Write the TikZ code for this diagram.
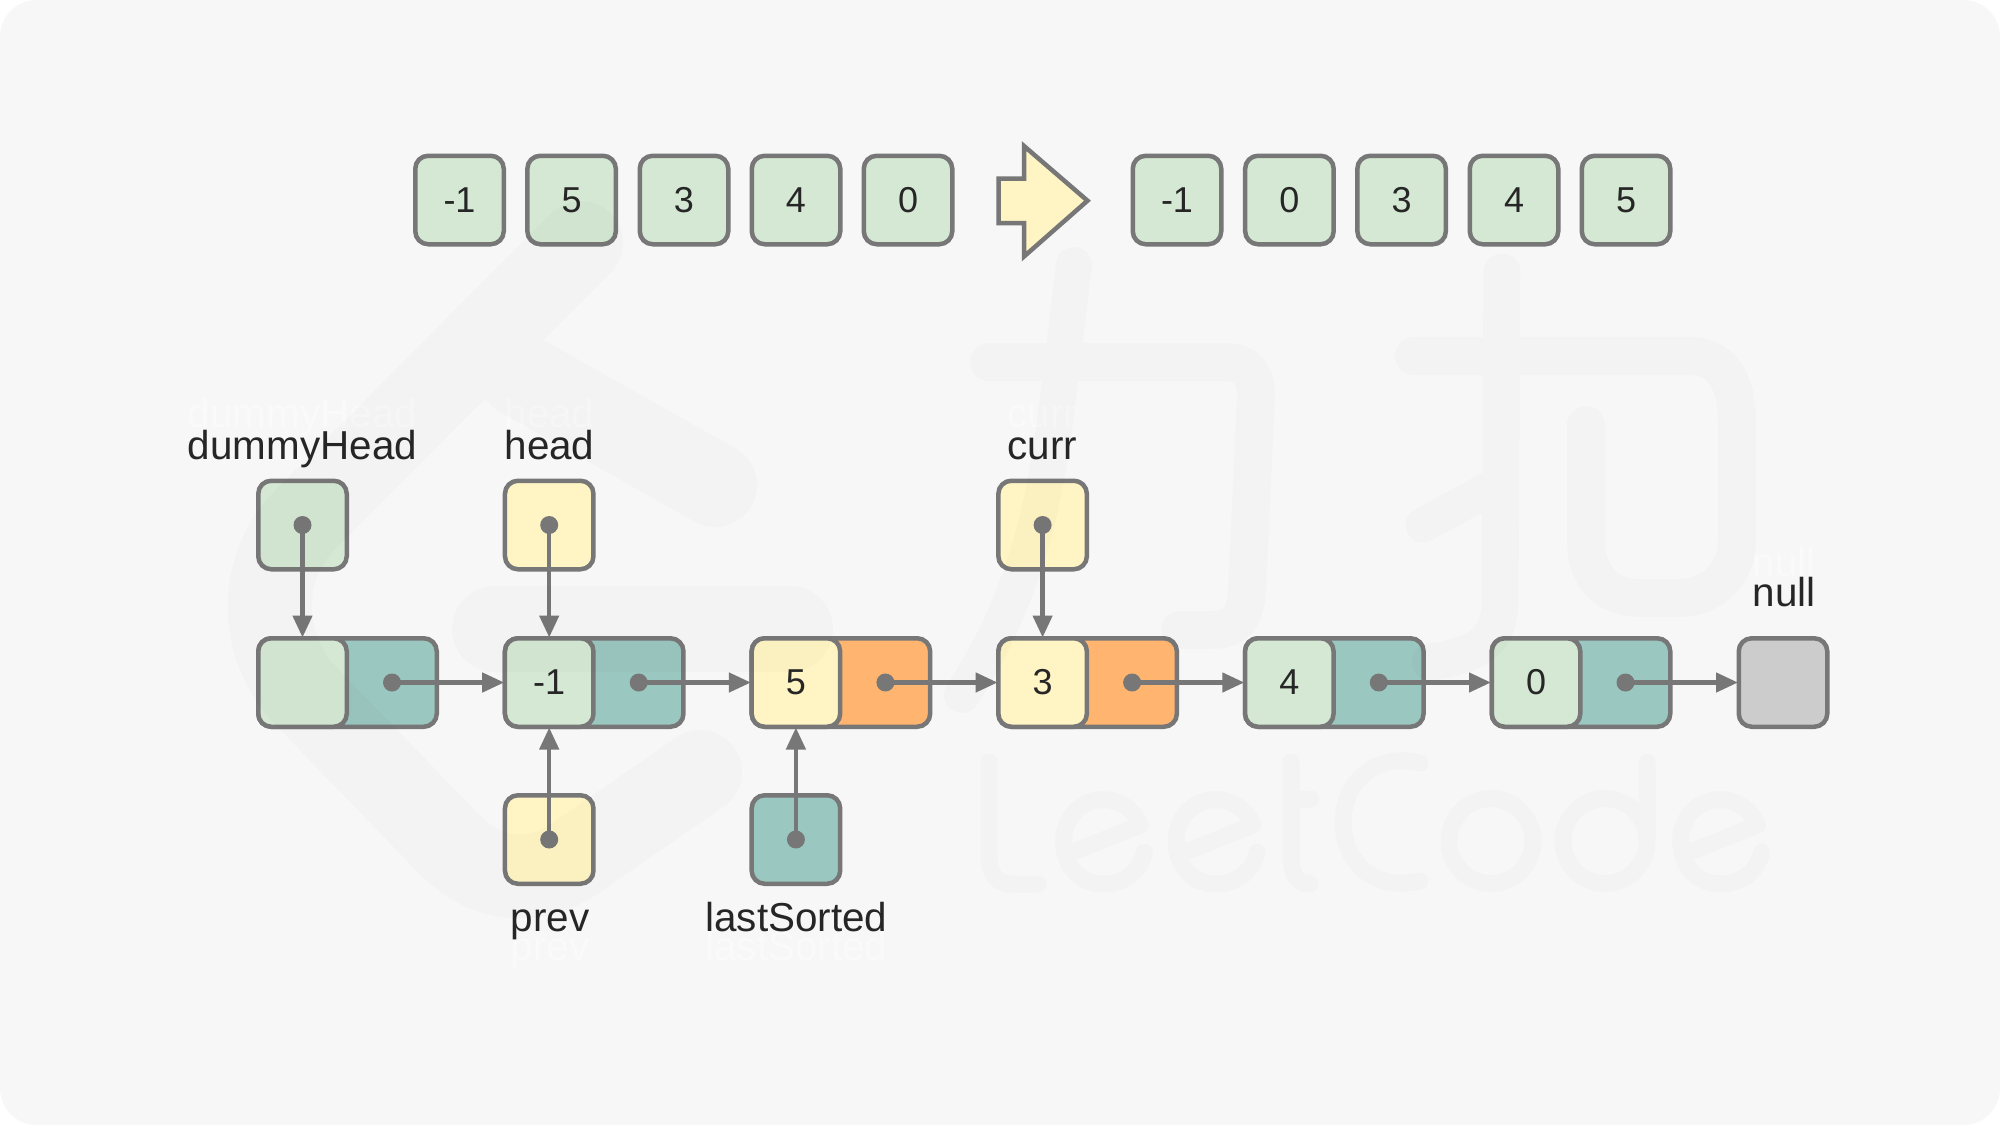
\documentclass[tikz,border=0pt]{standalone}
\usepackage{fontspec}
\setmainfont{Liberation Sans}
\usetikzlibrary{arrows.meta}
\definecolor{bgc}{HTML}{F7F7F7}
\definecolor{ln}{HTML}{777777}
\definecolor{gr}{HTML}{D5E8D4}
\definecolor{ye}{HTML}{FFF4C3}
\definecolor{te}{HTML}{9AC7BF}
\definecolor{orc}{HTML}{FFB570}
\definecolor{gy}{HTML}{CCCCCC}
\definecolor{txt}{HTML}{262626}
\definecolor{ghost}{HTML}{FAFAFA}
\tikzset{
  cell/.style={draw=ln,line width=4.5pt,rounded corners=13pt,minimum width=88.5pt,minimum height=88.5pt,inner sep=0pt,text=txt,font=\fontsize{36}{40}\selectfont},
  wide/.style={cell,minimum width=178.5pt,anchor=west},
  ptdot/.style={circle,fill=ln,minimum size=18pt,inner sep=0pt},
  ptr/.style={draw=ln,line width=4.5pt,shorten >=-1.5pt,-{Triangle[length=22pt,width=19pt]}},
  lab/.style={anchor=base,text=txt,inner sep=0pt,font=\fontsize{40.4}{44}\selectfont},
  glab/.style={anchor=base,text=ghost,inner sep=0pt,font=\fontsize{40.4}{44}\selectfont},
  wm/.style={draw=black,line cap=round,line join=round,line width=#1},
}
\begin{document}
\begin{tikzpicture}[x=1pt,y=-1pt]
\useasboundingbox (0,0) rectangle (2000,1125);
\fill[white] (0,0) rectangle (2000,1125);
\fill[bgc,rounded corners=37pt] (0,0) rectangle (2000,1125);
% top row
\foreach \n/\x/\t in {a1/459.5/-1,a2/571.6/5,a3/684/3,a4/796/4,a5/908/0,b1/1177/-1,b2/1289.4/0,b3/1401.6/3,b4/1514/4,b5/1626/5}
  \node[cell,fill=gr] (\n) at (\x,200) {\t};
\draw[draw=ln,fill=ye,line width=4.5pt,miter limit=10] (998.5,178.5) -- (1024,178.5) -- (1024,146) -- (1087.5,200.7) -- (1024,256.5) -- (1024,223) -- (998.5,223) -- cycle;
% ghost labels
\node[glab] (g1) at (302.5,427) {dummyHead};
\node[glab] (g2) at (549.5,427) {head};
\node[glab] (g3) at (1042.5,427) {curr};
\node[glab] (g4) at (1784,576) {null};
\node[glab] (g5) at (550,960) {prev};
\node[glab] (g6) at (796.5,960) {lastSorted};
% labels
\node[lab] (l1) at (302.5,459) {dummyHead};
\node[lab] (l2) at (549.5,459) {head};
\node[lab] (l3) at (1042.5,459) {curr};
\node[lab] (l4) at (1784,606) {null};
\node[lab] (l5) at (550,931) {prev};
\node[lab] (l6) at (796.5,931) {lastSorted};
% list nodes
\node[wide,fill=te] (r1) at (256,682.5) {};
\node[cell,fill=gr,anchor=west] (n1) at (256,682.5) {};
\node[wide,fill=te] (r2) at (502.7,682.5) {};
\node[cell,fill=gr,anchor=west] (n2) at (502.7,682.5) {-1};
\node[wide,fill=orc] (r3) at (749.4,682.5) {};
\node[cell,fill=ye,anchor=west] (n3) at (749.4,682.5) {5};
\node[wide,fill=orc] (r4) at (996.1,682.5) {};
\node[cell,fill=ye,anchor=west] (n4) at (996.1,682.5) {3};
\node[wide,fill=te] (r5) at (1242.8,682.5) {};
\node[cell,fill=gr,anchor=west] (n5) at (1242.8,682.5) {4};
\node[wide,fill=te] (r6) at (1489.5,682.5) {};
\node[cell,fill=gr,anchor=west] (n6) at (1489.5,682.5) {0};
\node[cell,fill=gy,anchor=west] (n7) at (1736.5,682.5) {};
% pointer boxes
\node[cell,fill=gr] (p1) at (302.5,525) {};
\node[cell,fill=ye] (p2) at (549.2,525) {};
\node[cell,fill=ye] (p3) at (1042.6,525) {};
\node[cell,fill=ye] (p4) at (549.2,839.5) {};
\node[cell,fill=te] (p5) at (795.9,839.5) {};
% dots
\node[ptdot] (dp1) at (p1.center) {};
\node[ptdot] (dp2) at (p2.center) {};
\node[ptdot] (dp3) at (p3.center) {};
\node[ptdot] (dp4) at (p4.center) {};
\node[ptdot] (dp5) at (p5.center) {};
\node[ptdot] (d1) at (392,682.5) {};
\node[ptdot] (d2) at (638.7,682.5) {};
\node[ptdot] (d3) at (885.4,682.5) {};
\node[ptdot] (d4) at (1132.1,682.5) {};
\node[ptdot] (d5) at (1378.8,682.5) {};
\node[ptdot] (d6) at (1625.5,682.5) {};
% connectors
\draw[ptr] (dp1.center) -- (n1.north);
\draw[ptr] (dp2.center) -- (n2.north);
\draw[ptr] (dp3.center) -- (n4.north);
\draw[ptr] (dp4.center) -- (n2.south);
\draw[ptr] (dp5.center) -- (n3.south);
\draw[ptr] (d1.center) -- (n2.west);
\draw[ptr] (d2.center) -- (n3.west);
\draw[ptr] (d3.center) -- (n4.west);
\draw[ptr] (d4.center) -- (n5.west);
\draw[ptr] (d5.center) -- (n6.west);
\draw[ptr] (d6.center) -- (n7.west);
% watermark
\begin{scope}[transparency group,opacity=0.016]
  % logo
  \draw[wm=84pt] (581,243) -- (305,520) .. controls (258,567) and (258,645) .. (305,695) -- (450,845) .. controls (490,885) and (540,885) .. (580,855) -- (700,772);
  \draw[wm=84pt] (520,375) -- (715,485);
  \draw[wm=86pt] (495,629) -- (790,629);
  % first char
  \draw[wm=36pt] (1074,265) -- (1060,380) .. controls (1048,490) and (1030,590) .. (962,695);
  \draw[wm=38pt] (989,362) -- (1225,362) .. controls (1247,362) and (1257,375) .. (1256,397) -- (1247,590) .. controls (1245,620) and (1235,630) .. (1210,630) -- (1180,630);
  % second char
  \draw[wm=37pt] (1502,272) -- (1500,600) .. controls (1500,640) and (1480,655) .. (1430,662);
  \draw[wm=35pt] (1423,525) -- (1500,483);
  \draw[wm=38pt] (1414,356) -- (1690,356) .. controls (1720,356) and (1737,380) .. (1737,420) -- (1737,540) .. controls (1737,575) and (1710,598) .. (1680,598) -- (1640,598) .. controls (1605,598) and (1586,575) .. (1586,540) -- (1586,425);
  % LeetCode
  \draw[wm=17pt] (989,762) -- (989,855) .. controls (989,875) and (997,884) .. (1012,884) -- (1038,884);
  \foreach \cx in {1103.5,1216,1720.6}
    \draw[wm=17pt] (\cx-33,853) -- (\cx+37,825) .. controls (\cx+30,809) and (\cx+15,799.5) .. (\cx,799.5) .. controls (\cx-24,799.5) and (\cx-40,819) .. (\cx-40,841) .. controls (\cx-40,865) and (\cx-24,884) .. (\cx,884) .. controls (\cx+22,884) and (\cx+38,869) .. (\cx+41,852);
  \draw[wm=17pt] (1291,762) -- (1291,855) .. controls (1291,875) and (1297,884) .. (1310,884);
  \draw[wm=17pt] (1291,799) -- (1311,799);
  \draw[wm=17pt] (1420,763) .. controls (1372,752) and (1343,785) .. (1343,822) .. controls (1343,860) and (1372,892) .. (1420,881);
  \draw[wm=17pt] (1491,841) ellipse [x radius=42pt,y radius=42.5pt];
  \draw[wm=17pt] (1605,841) ellipse [x radius=42pt,y radius=42.5pt];
  \draw[wm=17pt] (1647,762) -- (1647,841);
\end{scope}
\end{tikzpicture}
\end{document}
